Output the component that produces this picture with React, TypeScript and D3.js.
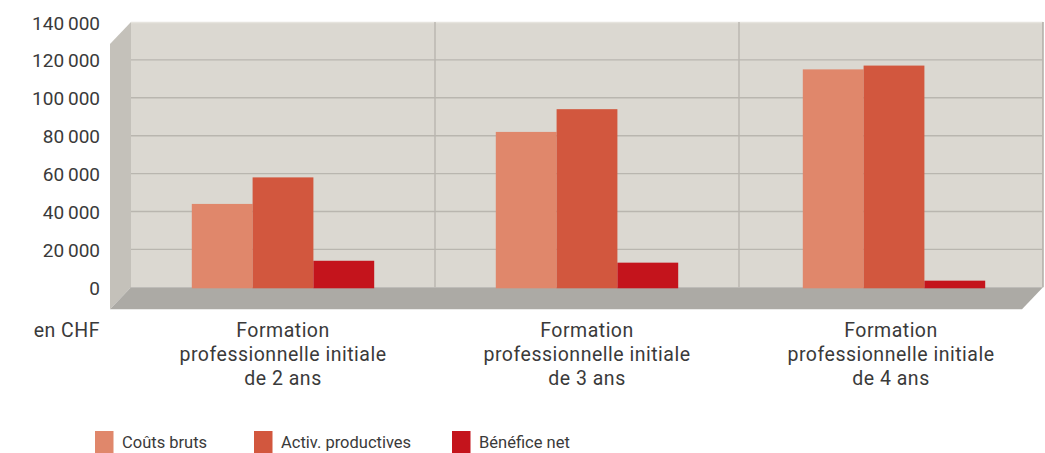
import React from "react";
import * as d3 from "d3";

const categories = [
  ["Formation", "professionnelle initiale", "de 2 ans"],
  ["Formation", "professionnelle initiale", "de 3 ans"],
  ["Formation", "professionnelle initiale", "de 4 ans"],
];
const seriesNames = ["Coûts bruts", "Activ. productives", "Bénéfice net"];
const coutsBruts = [44000, 82000, 115000];
const activProductives = [58000, 94000, 117000];
const beneficeNet = [14000, 13000, 3500];
const yTicks = [0, 20000, 40000, 60000, 80000, 100000, 120000, 140000];
const colors = ["#e0876b", "#d2573e", "#c4141c"];

const W = 1045;
const H = 453;
const wallLeft = 131;
const wallRight = 1043;
const wallTop = 22;
const zeroY = 287.3;
const depthX = 21;
const depthY = 22;

export default function App() {
  const series = [coutsBruts, activProductives, beneficeNet];
  const x = d3
    .scaleBand<number>()
    .domain(categories.map((_, i) => i))
    .range([wallLeft, wallRight])
    .paddingInner(0)
    .paddingOuter(0);
  const y = d3.scaleLinear().domain([0, 140000]).range([zeroY, wallTop]);
  const fmt = (v: number) => {
    const s = d3.format(",")(v);
    return s.replace(/,/g, "\u2009");
  };
  const bw = x.bandwidth();
  const barW = bw / 5;
  const textColor = "#3a3a3a";
  const font = "Roboto, 'DejaVu Sans', sans-serif";

  return (
    <svg
      width={W}
      height={H}
      style={{ position: "absolute", left: 0, top: 0, background: "#fff" }}
      fontFamily={font}
    >
      {/* back wall */}
      <rect x={wallLeft} y={wallTop} width={wallRight - wallLeft} height={zeroY - wallTop} fill="#dbd8d1" />
      <line x1={wallLeft} x2={wallRight} y1={wallTop + 0.5} y2={wallTop + 0.5} stroke="#e6e4de" strokeWidth={1.5} />
      <line x1={wallRight} x2={wallRight} y1={wallTop} y2={zeroY} stroke="#b0ada6" strokeWidth={1.5} />
      {/* left side wall */}
      <polygon
        points={`${wallLeft - depthX},${wallTop + depthY} ${wallLeft},${wallTop} ${wallLeft},${zeroY} ${wallLeft - depthX},${zeroY + depthY}`}
        fill="#c4c1ba"
      />
      {/* floor */}
      <polygon
        points={`${wallLeft},${zeroY} ${wallRight},${zeroY} ${wallRight - depthX},${zeroY + depthY} ${wallLeft - depthX},${zeroY + depthY}`}
        fill="#acaaa5"
      />
      {/* gridlines */}
      {yTicks
        .filter((t) => t > 0 && t < 140000)
        .map((t) => (
          <line key={t} x1={wallLeft} x2={wallRight} y1={y(t)} y2={y(t)} stroke="#b9b6af" strokeWidth={1.4} />
        ))}
      {/* category separators */}
      {categories.slice(1).map((_, i) => (
        <line
          key={i}
          x1={x(i + 1)!}
          x2={x(i + 1)!}
          y1={wallTop}
          y2={zeroY}
          stroke="#b9b6af"
          strokeWidth={1.4}
        />
      ))}
      {/* bars */}
      {series.map((vals, s) =>
        vals.map((v, i) => (
          <rect
            key={`${s}-${i}`}
            x={x(i)! + barW * (s + 1) + (i === 2 ? 3 : 0)}
            y={y(v)}
            width={barW}
            height={zeroY + 1 - y(v)}
            fill={colors[s]}
          />
        ))
      )}
      {/* y tick labels */}
      {yTicks.map((t) => (
        <text key={t} x={100} y={y(t) + 7.5} textAnchor="end" fontSize={19} fill={textColor}>
          {fmt(t)}
        </text>
      ))}
      <text x={100} y={337} textAnchor="end" fontSize={19.5} letterSpacing={0.5} fill={textColor}>
        en CHF
      </text>
      {/* category labels */}
      {categories.map((lines, i) =>
        lines.map((ln, j) => (
          <text
            key={`${i}-${j}`}
            x={x(i)! + bw / 2}
            y={337 + j * 24}
            textAnchor="middle"
            fontSize={19.5}
            letterSpacing={0.5}
            fill={textColor}
          >
            {ln}
          </text>
        ))
      )}
      {/* legend */}
      {seriesNames.map((n, i) => {
        const lx = [95, 254, 452][i];
        return (
          <g key={n}>
            <rect x={lx} y={431} width={18.5} height={22} fill={colors[i]} />
            <text x={lx + 27} y={448} fontSize={16.5} fill={textColor}>
              {n}
            </text>
          </g>
        );
      })}
    </svg>
  );
}
